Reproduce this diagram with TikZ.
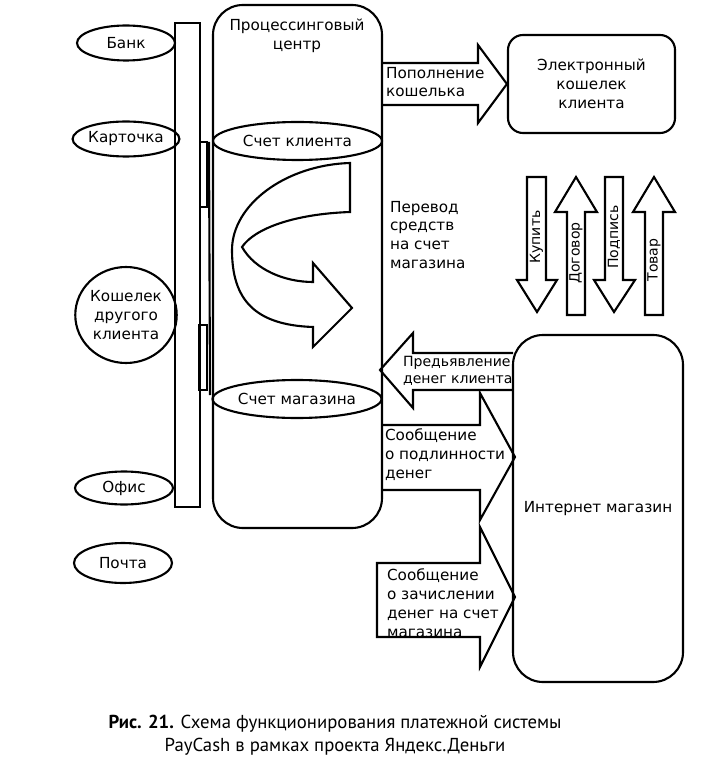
\documentclass[tikz,border=0pt]{standalone}
\usepackage{fontspec}
\setmainfont{DejaVu Sans}
\newfontfamily\captionfont{PT Sans}
\usetikzlibrary{shapes.geometric}

\tikzset{place/.style={draw,ellipse,font=\fontsize{13}{16}\selectfont,align=center,inner sep=0pt,minimum width=29.4mm,minimum height=10.5mm},
account/.style={draw,ellipse,font=\fontsize{13}{16}\selectfont,inner sep=0pt,minimum width=50.7mm,minimum height=11.4mm},
box/.style={draw,rounded corners=4.5mm,font=\fontsize{13}{16}\selectfont,align=center,inner sep=0pt},
flow/.style={draw,line join=miter},
flow label/.style={font=\fontsize{13}{16}\selectfont,anchor=north west,align=left,inner sep=0pt},
vertical label/.style={font=\fontsize{12}{14}\selectfont,rotate=90,inner sep=0pt}}

\begin{document}
\begin{tikzpicture}[x=0.03cm,y=-0.03cm,line width=1.8pt]
\useasboundingbox (0,0) rectangle (723,769);

%% places on the left
\node [place] (bank) at (126,43) {Банк};
\node [place] (card) at (126,139) {Карточка};
\node [place,minimum height=28.8mm] (otherwallet) at (126,315) {Кошелек\\другого\\клиента};
\node [place,minimum height=9.9mm] (office) at (124,488) {Офис};
\node [place,minimum height=12mm] (post) at (123,563) {Почта};

%% bar between places and centre
\node [draw,inner sep=0pt,minimum width=7.5mm,minimum height=145.2mm] (bar) at (187.5,265) {};
\draw (200,142) rectangle (207,207);
\draw (199,325) rectangle (207,390);
\draw (209,142) -- (210,395);

%% processing centre
\node [box,rounded corners=9mm,minimum width=50.7mm,minimum height=156.9mm] (proc) at (297.5,266.5) {};
\node [font=\fontsize{13}{16}\selectfont,align=center] (proctitle) at (297,36) {Процессинговый\\центр};
\node [account] (clientacc) at (297.5,141) {Счет клиента};
\node [account] (shopacc) at (297,399) {Счет магазина};

%% transfer inside the centre
\draw [flow] (350,163) -- (350,212) .. controls (295,214) and (255,228) .. (242,247)
  .. controls (255,270) and (285,282) .. (313,282) -- (313,263) -- (352,308) -- (313,347) -- (313,327)
  .. controls (255,325) and (232,300) .. (232,250) .. controls (232,205) and (285,165) .. (350,163) -- cycle;

%% client wallet and shop
\node [box,minimum width=50.1mm,minimum height=29.4mm] (ewallet) at (591.5,84) {Электронный\\кошелек\\клиента};
\node [box,rounded corners=9mm,minimum width=51mm,minimum height=104.1mm] (shop) at (598,508.5) {Интернет магазин};

%% wide arrows
\draw [flow] (382,63) -- (478,63) -- (478,45) -- (ewallet.west) -- (478,123) -- (478,105) -- (382,105);
\node [flow label] (topup) at (385,66) {Пополнение\\кошелька};

\node [flow label] (transfer) at (389,200) {Перевод\\средств\\на счет\\магазина};

\draw [flow] (513,353) -- (413,353) -- (413,333) -- (380,370) -- (413,408) -- (413,390) -- (513,390);
\node [flow label,font=\fontsize{12}{15}\selectfont] (present) at (402,355) {Предьявление\\денег клиента};

\draw [flow] (382,425) -- (480,425) -- (480,393) -- (515,457) -- (480,520) -- (480,490) -- (382,490);
\node [flow label] (genuine) at (384,428) {Сообщение\\о подлинности\\денег};

\draw [flow] (480,563) -- (377,563) -- (377,637) -- (480,637) -- (480,667) -- (515,597) -- (480,527) -- cycle;
\node [flow label] (credit) at (386,568) {Сообщение\\о зачислении\\денег на счет\\магазина};

%% narrow arrows between wallet and shop
\draw [flow] (527,177) -- (546,177) -- (546,280) -- (557,280) -- (537,312) -- (517,280) -- (527,280) -- cycle;
\draw [flow] (567,315) -- (585,315) -- (585,212) -- (597,212) -- (576,177) -- (555,212) -- (567,212) -- cycle;
\draw [flow] (605,177) -- (623,177) -- (623,280) -- (635,280) -- (614,312) -- (594,280) -- (605,280) -- cycle;
\draw [flow] (645,315) -- (663,315) -- (663,212) -- (675,212) -- (654,177) -- (633,212) -- (645,212) -- cycle;
\node [vertical label] (buy) at (536.5,237) {Купить};
\node [vertical label] (contract) at (576,253) {Договор};
\node [vertical label] (sign) at (614,237) {Подпись};
\node [vertical label] (goods) at (654,260) {Товар};

%% caption
\node [font=\captionfont\fontsize{16}{20}\selectfont,align=center] (caption) at (335,735) {\textbf{Рис. 21.} Схема функционирования платежной системы\\PayCash в рамках проекта Яндекс.Деньги};

\end{tikzpicture}
\end{document}
